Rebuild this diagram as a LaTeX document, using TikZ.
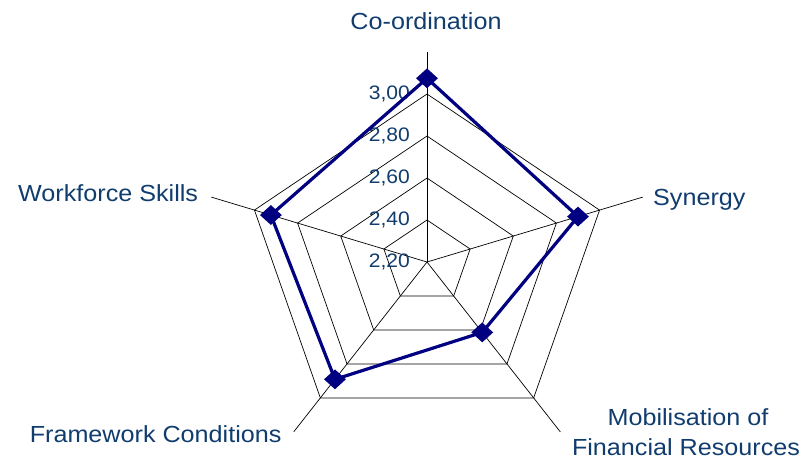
\documentclass[tikz,border=0pt]{standalone}
\usepackage{fontspec}
\setmainfont{Liberation Sans}
\usetikzlibrary{shapes.geometric}
\definecolor{lblue}{RGB}{16,60,110}
\definecolor{navy}{RGB}{0,0,128}
\newcommand{\sx}[1]{\scalebox{1.08}[1]{#1}}
\begin{document}
\begin{tikzpicture}[x=1pt,y=1pt,
  grid/.style={draw=black, line width=0.7pt},
  dataline/.style={draw=navy, line width=3.2pt, line join=miter},
  marker/.style={diamond, fill=navy, inner sep=0pt, minimum width=22pt, minimum height=20pt},
  lbl/.style={text=lblue, font=\fontsize{23.3}{28}\selectfont, inner sep=0pt},
  tick/.style={text=lblue, font=\fontsize{19.5}{23}\selectfont, inner sep=0pt, anchor=base east}]
\useasboundingbox (0,0) rectangle (805,459);
\begin{scope}[shift={(427,197)}, xscale=1.08]
  \coordinate (O) at (0,0);
  \foreach \a/\n in {90/a,18/b,-54/c,-126/d,162/e} {
    \coordinate (end\n) at (\a:210);
    \foreach \k in {1,2,3,4} \coordinate (g\k\n) at (\a:{42*\k});
  }
  \coordinate (pa) at (90:183.7);
  \coordinate (pb) at (18:147);
  \coordinate (pc) at (-54:87);
  \coordinate (pd) at (-126:145);
  \coordinate (pe) at (162:152);
\end{scope}
% axes
\foreach \n in {a,b,c,d,e} \draw[grid] (O) -- (end\n);
% grid pentagons
\foreach \k in {1,2,3,4}
  \draw[grid] (g\k a) -- (g\k b) -- (g\k c) -- (g\k d) -- (g\k e) -- cycle;
% tick labels
\node[tick] (t300) at (410,359.5) {\sx{3,00}};
\node[tick] (t280) at (410,317.5) {\sx{2,80}};
\node[tick] (t260) at (410,275.5) {\sx{2,60}};
\node[tick] (t240) at (410,233.5) {\sx{2,40}};
\node[tick] (t220) at (410,191.5) {\sx{2,20}};
% data series
\draw[dataline] (pa) -- (pb) -- (pc) -- (pd) -- (pe) -- cycle;
\foreach \n in {a,b,c,d,e} \node[marker] (m\n) at (p\n) {};
% category labels
\node[lbl, anchor=base] (lco) at (426,429) {\sx{Co-ordination}};
\node[lbl, anchor=base west] (lsy) at (653,254) {\sx{Synergy}};
\node[lbl, anchor=base east] (lwf) at (198.3,257.3) {\sx{Workforce Skills}};
\node[lbl, anchor=base east] (lfc) at (281.7,16.7) {\sx{Framework Conditions}};
\node[lbl, anchor=base] (lmo1) at (688,34) {\sx{Mobilisation of}};
\node[lbl, anchor=base] (lmo2) at (686,4) {\sx{Financial Resources}};
\end{tikzpicture}
\end{document}
